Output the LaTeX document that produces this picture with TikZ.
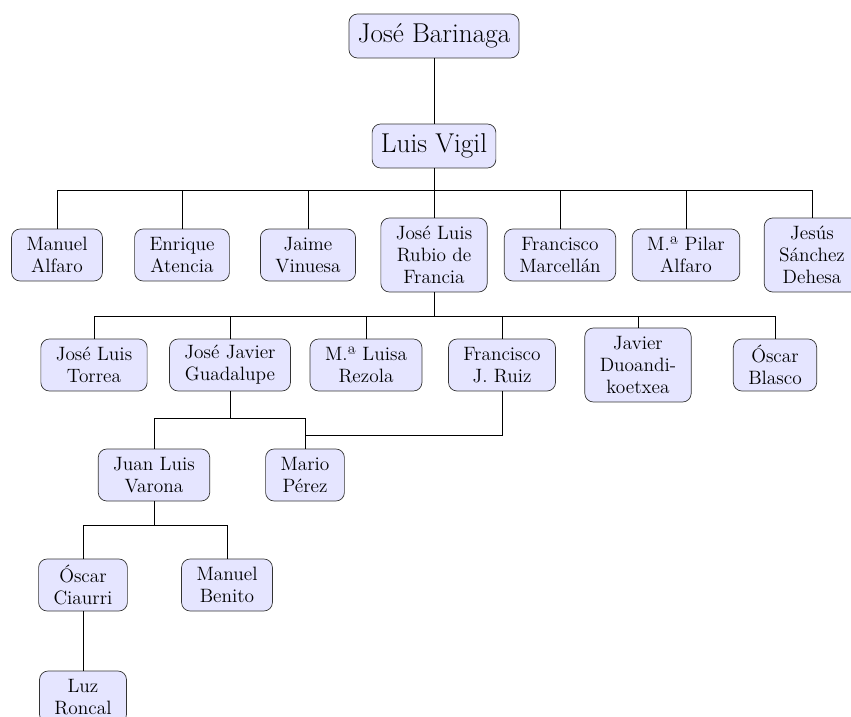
\documentclass[tikz,border=0pt]{standalone}
\usepackage{amsmath}
\usepackage[HTML]{xcolor}
\usepackage{tikz}
\usetikzlibrary{positioning, arrows.meta, calc}

\tikzset{
  orgbox/.style={draw=black!80, fill=blue!10, rounded corners=0.17cm, align=center,
    inner xsep=8.5pt, inner ysep=2pt, minimum height=1.04cm,
    font=\fontsize{11}{12.5}\selectfont},
  topbox/.style={orgbox, minimum height=0.88cm, inner xsep=5pt,
    font=\fontsize{15.5}{19}\selectfont},
  tall/.style={minimum height=1.48cm}
}

\begin{document}
\begin{tikzpicture}[x=0.02cm, y=-0.02cm]
\useasboundingbox (0,0) rectangle (851,716);
\node[topbox] (barinaga) at (434,36) {José Barinaga};
\node[topbox] (vigil) at (434,146) {Luis Vigil};
\node[orgbox] (alfaroM) at (57,255) {Manuel\\Alfaro};
\node[orgbox] (atencia) at (182,255) {Enrique\\Atencia};
\node[orgbox] (vinuesa) at (308,255) {Jaime\\Vinuesa};
\node[orgbox, tall] (rubio) at (434,255) {José Luis\\Rubio de\\Francia};
\node[orgbox] (marcellan) at (560,255) {Francisco\\Marcellán};
\node[orgbox] (alfaroP) at (686,255) {M.ª Pilar\\Alfaro};
\node[orgbox, tall] (sanchez) at (812,255) {Jesús\\Sánchez\\Dehesa};
\node[orgbox] (torrea) at (94,365) {José Luis\\Torrea};
\node[orgbox] (guadalupe) at (230,365) {José Javier\\Guadalupe};
\node[orgbox] (rezola) at (366,365) {M.ª Luisa\\Rezola};
\node[orgbox] (ruiz) at (502,365) {Francisco\\J. Ruiz};
\node[orgbox, tall] (duoandi) at (638,365) {Javier\\Duoandi-\\koetxea};
\node[orgbox] (blasco) at (775,365) {Óscar\\Blasco};
\node[orgbox] (varona) at (154,475) {Juan Luis\\Varona};
\node[orgbox] (perez) at (305,475) {Mario\\Pérez};
\node[orgbox] (ciaurri) at (83,585) {Óscar\\Ciaurri};
\node[orgbox] (benito) at (227,585) {Manuel\\Benito};
\node[orgbox] (roncal) at (83,697) {Luz\\Roncal};
\coordinate (forkA) at (434,190);
\coordinate (forkB) at (434,316);
\coordinate (forkC) at (230,418);
\coordinate (forkD) at (305,435);
\coordinate (forkE) at (154,525);
\draw (barinaga) -- (vigil);
\draw (vigil) -- (forkA);
\foreach \n in {alfaroM,atencia,vinuesa,rubio,marcellan,alfaroP,sanchez}
  \draw (forkA) -| (\n);
\draw (rubio) -- (forkB);
\foreach \n in {torrea,guadalupe,rezola,ruiz,duoandi,blasco}
  \draw (forkB) -| (\n);
\draw (guadalupe) -- (forkC);
\draw (forkC) -| (varona);
\draw (forkC) -| (perez);
\draw (ruiz) |- (forkD);
\draw (varona) -- (forkE);
\draw (forkE) -| (ciaurri);
\draw (forkE) -| (benito);
\draw (ciaurri) -- (roncal);
\end{tikzpicture}
\end{document}
